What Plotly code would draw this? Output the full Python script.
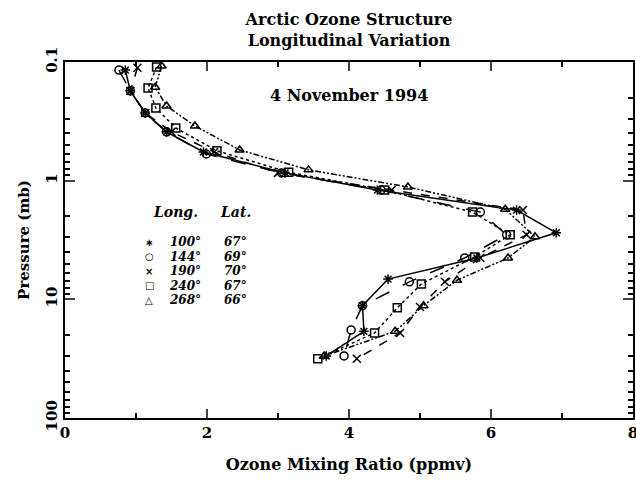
import plotly.graph_objects as go

# Ozone mixing ratio profiles (ppmv) versus pressure (mb), 4 November 1994
longitudes = ["100°", "144°", "190°", "240°", "268°"]
latitudes = ["67°", "69°", "70°", "67°", "66°"]

ozone_100 = [0.85, 0.92, 1.13, 1.43, 1.95, 3.10, 4.40, 6.36, 6.92, 5.80, 4.55, 4.19, 4.21, 3.68]
press_100 = [0.117, 0.175, 0.269, 0.388, 0.573, 0.86, 1.20, 1.77, 2.75, 4.48, 6.75, 11.3, 18.6, 30.0]

ozone_144 = [0.76, 0.92, 1.13, 1.43, 1.99, 3.05, 4.45, 5.85, 6.22, 5.63, 4.85, 4.19, 4.03, 3.93]
press_144 = [0.117, 0.175, 0.269, 0.388, 0.596, 0.86, 1.20, 1.84, 2.86, 4.48, 7.12, 11.3, 18.1, 30.0]

ozone_190 = [1.02, 0.92, 1.13, 1.50, 2.10, 3.00, 4.60, 6.45, 6.50, 5.85, 5.35, 5.00, 4.72, 4.11]
press_190 = [0.112, 0.175, 0.269, 0.388, 0.573, 0.86, 1.20, 1.77, 2.86, 4.48, 7.12, 11.6, 19.2, 31.7]

ozone_240 = [1.29, 1.17, 1.28, 1.56, 2.14, 3.15, 4.50, 5.74, 6.27, 5.77, 5.02, 4.68, 4.36, 3.56]
press_240 = [0.110, 0.166, 0.244, 0.360, 0.560, 0.85, 1.20, 1.84, 2.86, 4.39, 7.41, 11.8, 19.2, 31.7]

ozone_268 = [1.36, 1.27, 1.43, 1.83, 2.46, 3.43, 4.83, 6.20, 6.62, 6.24, 5.52, 5.05, 4.65, 3.65]
press_268 = [0.108, 0.163, 0.235, 0.346, 0.551, 0.811, 1.13, 1.74, 2.97, 4.48, 6.90, 11.3, 18.6, 30.0]

x_ticks = [0, 2, 4, 6, 8]
x_minor = [1, 3, 5, 7]
p_ticks = [0.1, 1, 10, 100]
p_tick_text = ["0.1", "1", "10", "100"]
p_minor = [m * d for d in (0.1, 1, 10) for m in range(2, 10)]

profiles = [
    (ozone_100, press_100, "asterisk-open", "solid"),
    (ozone_144, press_144, "circle-open", "longdash"),
    (ozone_190, press_190, "x-thin-open", "dash"),
    (ozone_240, press_240, "square-open", "dot"),
    (ozone_268, press_268, "triangle-up-open", "6px,2px,2px,2px,2px,2px"),
]

SERIF = "DejaVu Serif"
fig = go.Figure()
for (xs, ps, sym, dash), lon in zip(profiles, longitudes):
    fig.add_trace(go.Scatter(
        x=xs, y=ps, mode="lines+markers", name=lon,
        line=dict(color="black", width=1.5, dash=dash),
        marker=dict(symbol=sym, size=8, color="black",
                    line=dict(color="black", width=1.5)),
        showlegend=False,
    ))

# Key: symbol, longitude and latitude columns
legend_symbols = ["∗", "○", "×", "□", "△"]
annotations = [
    dict(text="<b><i>Long.</i></b>", x=0.195, y=0.58, font=dict(family=SERIF, size=14, color="black")),
    dict(text="<b><i>Lat.</i></b>", x=0.30, y=0.58, font=dict(family=SERIF, size=14, color="black")),
]
row0 = 0.494
row_step = 0.0407
for i, (sym, lon, lat) in enumerate(zip(legend_symbols, longitudes, latitudes)):
    yy = row0 - i * row_step
    annotations.append(dict(text=f"<b>{sym}</b>", x=0.148, y=yy,
                            font=dict(family="DejaVu Sans", size=10, color="black")))
    annotations.append(dict(text=f"<b><i>{lon}</i></b>", x=0.212, y=yy))
    annotations.append(dict(text=f"<b><i>{lat}</i></b>", x=0.300, y=yy))
for a in annotations:
    a.setdefault("font", dict(family=SERIF, size=12, color="black"))
    a.update(xref="paper", yref="paper", showarrow=False, xanchor="center", yanchor="middle",
             borderpad=0)
annotations.append(dict(text="<b>4 November 1994</b>", x=0.5, y=0.905, xref="paper", yref="paper",
                        showarrow=False, xanchor="center", yanchor="middle",
                        font=dict(family=SERIF, size=16, color="black")))

fig.update_layout(
    width=636, height=480,
    margin=dict(l=65, r=3, t=62, b=62),
    paper_bgcolor="white", plot_bgcolor="white",
    font=dict(family=SERIF, color="black", size=14),
    title=dict(text="<b>Arctic Ozone Structure<br>Longitudinal Variation</b>",
               x=0.5, xref="paper", y=1 - 25 / 480, yref="container", yanchor="middle",
               font=dict(family=SERIF, size=16, color="black")),
    annotations=annotations,
    xaxis=dict(
        range=[0, 8], tickvals=x_ticks, ticks="inside", ticklen=9, tickwidth=1.5,
        showline=True, linewidth=2, linecolor="black", mirror="allticks",
        showgrid=False, zeroline=False, automargin=False, ticklabeloverflow="allow",
        tickfont=dict(family=SERIF, size=15, color="black", weight="bold"),
        minor=dict(tickvals=x_minor, ticks="inside", ticklen=5, tickwidth=1.5, tickcolor="black"),
        title=dict(text="<b>Ozone Mixing Ratio (ppmv)</b>", standoff=18,
                   font=dict(family=SERIF, size=16, color="black")),
    ),
    yaxis=dict(
        type="log", range=[2, -1], tickvals=p_ticks, ticktext=p_tick_text, tickangle=-90,
        ticks="inside", ticklen=10, tickwidth=1.5,
        showline=True, linewidth=2, linecolor="black", mirror="allticks",
        showgrid=False, zeroline=False, automargin=False,
        tickfont=dict(family=SERIF, size=15, color="black", weight="bold"),
        minor=dict(tickvals=p_minor, ticks="inside", ticklen=5, tickwidth=1.5, tickcolor="black"),
        title=dict(text="<b>Pressure (mb)</b>", standoff=10,
                   font=dict(family=SERIF, size=15, color="black")),
    ),
)

fig.write_html("out.html")
